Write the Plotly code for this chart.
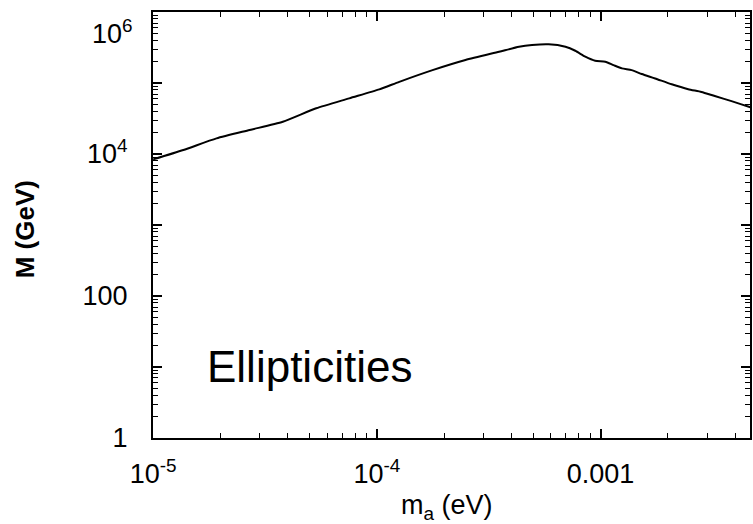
import plotly.graph_objects as go

# axion mass m_a (eV) and scale M (GeV)
m_a = [1.0e-5, 1.365e-5, 1.92e-5, 2.70e-5, 3.80e-5, 5.36e-5, 7.53e-5, 1.026e-4,
       1.26e-4, 1.774e-4, 2.49e-4, 3.52e-4, 4.32e-4, 4.94e-4, 5.86e-4, 6.97e-4,
       7.71e-4, 8.55e-4, 9.46e-4, 1.05e-3, 1.143e-3, 1.245e-3, 1.377e-3, 1.528e-3,
       1.754e-3, 2.08e-3, 2.466e-3, 2.825e-3, 3.24e-3, 3.85e-3, 4.68e-3, 4.8e-3]
M_gev = [8.4e3, 1.14e4, 1.66e4, 2.18e4, 2.85e4, 4.41e4, 6.09e4, 8.15e4,
         1.04e5, 1.52e5, 2.11e5, 2.76e5, 3.24e5, 3.43e5, 3.51e5, 3.24e5,
         2.85e5, 2.35e5, 2.06e5, 2.0e5, 1.79e5, 1.61e5, 1.52e5, 1.34e5,
         1.16e5, 9.6e4, 8.2e4, 7.5e4, 6.56e4, 5.57e4, 4.55e4, 4.45e4]

x_tickvals = [1e-5, 1e-4, 1e-3]
x_ticktext = ["10<sup>-5</sup>", "10<sup>-4</sup>", "0.001"]
y_tickvals = [1, 10, 100, 1e3, 1e4, 1e5, 1e6]
y_ticktext = ["1", "", "100", "", "10<sup>4</sup>", "", ""]
y_top_label = "10<sup>6</sup>"

x_minor = [m * 10**e for e in (-5, -4, -3) for m in range(2, 10)]
y_minor = [m * 10**e for e in range(0, 6) for m in range(2, 10)]

font_family = "Liberation Sans, Arial, sans-serif"

fig = go.Figure()
fig.add_trace(go.Scatter(x=m_a, y=M_gev, mode="lines",
                         line=dict(color="black", width=2, shape="spline", smoothing=0.6),
                         showlegend=False))

axis_common = dict(
    type="log", showgrid=False, zeroline=False,
    showline=True, linecolor="black", linewidth=2, mirror="allticks",
    ticks="inside", ticklen=9, tickwidth=1.5, tickcolor="black",
    tickfont=dict(family=font_family, size=27, color="black"),
)

fig.update_xaxes(range=[-5.0005, -2.332], tickmode="array", tickvals=x_tickvals,
                 ticktext=x_ticktext, ticklabelstandoff=11,
                 minor=dict(tickvals=x_minor, ticks="inside", ticklen=5,
                            tickwidth=1.2, tickcolor="black", showgrid=False),
                 **axis_common)
fig.update_yaxes(range=[-0.0005, 6.001], tickmode="array", tickvals=y_tickvals,
                 ticktext=y_ticktext, ticklabelstandoff=18,
                 minor=dict(tickvals=y_minor, ticks="inside", ticklen=5,
                            tickwidth=1.2, tickcolor="black", showgrid=False),
                 **axis_common)

# top y tick label, nudged down to stay inside the page
fig.add_annotation(xref="paper", yref="paper", x=0, y=1, xanchor="right",
                   yanchor="middle", xshift=-18, yshift=-20, showarrow=False,
                   text=y_top_label,
                   font=dict(family=font_family, size=27, color="black"))
# y-axis title
fig.add_annotation(xref="paper", yref="paper", x=0, y=0.49, xanchor="center",
                   yanchor="middle", xshift=-128, showarrow=False, textangle=-90,
                   text="<b>M (GeV)</b>",
                   font=dict(family=font_family, size=26, color="black"))
# x-axis title
fig.add_annotation(xref="paper", yref="paper", x=0.412, y=0, xanchor="left",
                   yanchor="top", yshift=-50, showarrow=False,
                   text="m<sub>a</sub> (eV)",
                   font=dict(family=font_family, size=27, color="black"))
fig.add_annotation(xref="paper", yref="paper", x=0.087, y=0.169, xanchor="left",
                   yanchor="middle", showarrow=False, text="Ellipticities",
                   font=dict(family=font_family, size=44, color="black"))

fig.update_layout(width=753, height=524, margin=dict(l=153, r=1, t=12, b=86),
                  paper_bgcolor="white", plot_bgcolor="white")

fig.write_html("out.html")
